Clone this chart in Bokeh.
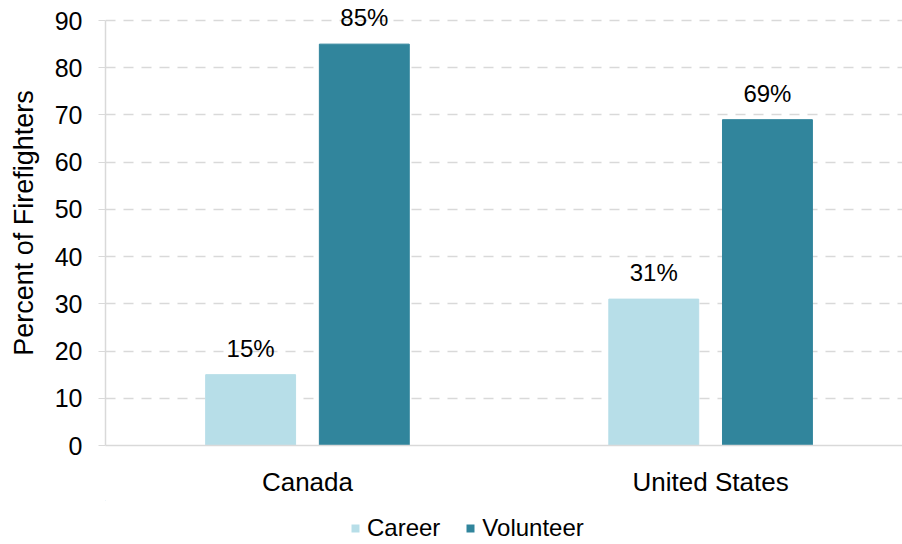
from bokeh.plotting import figure
from bokeh.layouts import column
from bokeh.models import (ColumnDataSource, Range1d, FixedTicker, LabelSet, Legend, LegendItem)
from bokeh.core.properties import value
from bokeh.embed import file_html
from bokeh.resources import INLINE

countries = ["Canada", "United States"]
career = [15, 31]
volunteer = [85, 69]
series_names = ["Career", "Volunteer"]
colors = ["#B7DEE8", "#31859C"]
y_ticks = [0, 10, 20, 30, 40, 50, 60, 70, 80, 90]

FONT = "Liberation Sans"
xs = list(range(len(countries)))
off = 0.141
bw = 0.223

src_c = ColumnDataSource(dict(x=[i - off for i in xs], top=career,
                              lbl=[f"{v}%" for v in career]))
src_v = ColumnDataSource(dict(x=[i + off for i in xs], top=volunteer,
                              lbl=[f"{v}%" for v in volunteer]))

p = figure(width=902, height=500, output_backend="svg", toolbar_location=None,
           x_range=Range1d(-0.501, 1.476), y_range=Range1d(0, 94.24),
           min_border_top=0, min_border_right=0, min_border_left=105, min_border_bottom=55)
p.outline_line_color = None
p.background_fill_color = "white"
p.border_fill_color = "white"

p.vbar(x="x", top="top", width=bw, source=src_c, color=colors[0])
p.vbar(x="x", top="top", width=bw, source=src_v, color=colors[1])

for src in (src_c, src_v):
    p.add_layout(LabelSet(x="x", y="top", text="lbl", source=src, y_offset=18,
                          text_align="center", text_baseline="alphabetic",
                          text_font=value(FONT), text_font_size="24px", text_color="#000000"))

# y axis
p.yaxis.ticker = FixedTicker(ticks=y_ticks)
p.yaxis.bounds = (0, 90)
p.yaxis.axis_label = "Percent of Firefighters"
p.yaxis.axis_label_text_font = FONT
p.yaxis.axis_label_text_font_size = "27px"
p.yaxis.axis_label_text_font_style = "normal"
p.yaxis.axis_label_text_color = "#000000"
p.yaxis.axis_label_standoff = 13
p.yaxis.major_label_text_font = FONT
p.yaxis.major_label_text_font_size = "25px"
p.yaxis.major_label_text_color = "#000000"
p.yaxis.major_label_standoff = 16
p.yaxis.axis_line_color = "#D9D9D9"
p.yaxis.axis_line_width = 1.5
p.yaxis.major_tick_line_color = "#D9D9D9"
p.yaxis.major_tick_out = 7
p.yaxis.major_tick_in = 0
p.yaxis.minor_tick_line_color = None

# x axis
p.xaxis.ticker = FixedTicker(ticks=xs)
p.xaxis.major_label_overrides = {i: c for i, c in zip(xs, countries)}
p.xaxis.major_label_text_font = FONT
p.xaxis.major_label_text_font_size = "26px"
p.xaxis.major_label_text_color = "#000000"
p.xaxis.major_label_standoff = 15
p.xaxis.axis_line_color = "#D9D9D9"
p.xaxis.axis_line_width = 1.5
p.xaxis.major_tick_line_color = None
p.xaxis.minor_tick_line_color = None

p.xgrid.grid_line_color = None
p.ygrid.grid_line_color = "#D9D9D9"
p.ygrid.grid_line_dash = "10 8"
p.ygrid.grid_line_width = 1.5

# legend strip below the chart (frame is aligned with the main chart's frame)
lg = figure(width=902, height=44, output_backend="svg", toolbar_location=None,
            x_range=Range1d(0, 1), y_range=Range1d(0, 1),
            min_border_top=0, min_border_right=0, min_border_left=0, min_border_bottom=0)
lg.axis.visible = False
lg.grid.visible = False
lg.outline_line_color = None
lg.border_fill_color = "white"
# proxy renderers placed outside the visible range, used only for legend swatches
d1 = lg.vbar(x=[-5], bottom=[5], top=[6], width=0.1, fill_color=colors[0], line_color=None)
d2 = lg.vbar(x=[-5], bottom=[5], top=[6], width=0.1, fill_color=colors[1], line_color=None)
legend = Legend(items=[LegendItem(label=series_names[0], renderers=[d1]),
                       LegendItem(label=series_names[1], renderers=[d2])],
                orientation="horizontal", location=(245, 2),
                label_text_font=FONT, label_text_font_size="24px",
                label_text_color="#000000", glyph_width=10, glyph_height=10,
                label_standoff=7, spacing=25, padding=0, margin=0,
                border_line_color=None, background_fill_alpha=0)
lg.add_layout(legend, "center")

layout = column(p, lg, spacing=0)
open("out.html", "w").write(file_html(layout, INLINE))
